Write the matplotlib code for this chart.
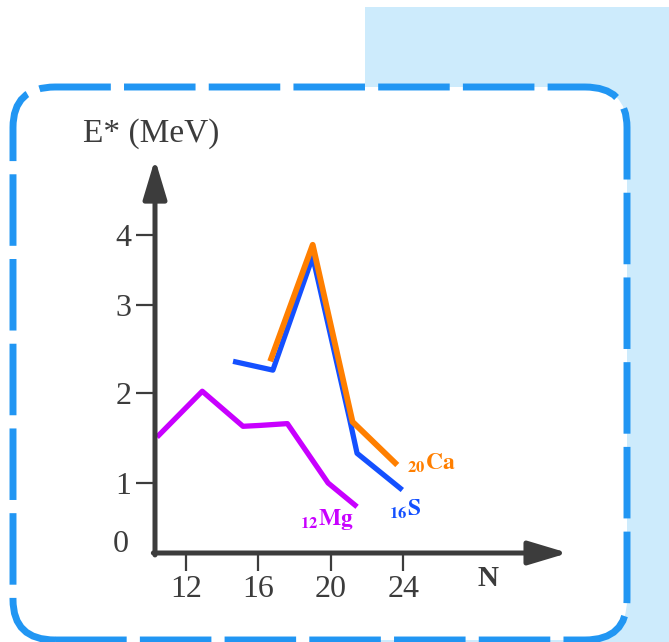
import numpy as np
import matplotlib
matplotlib.use('Agg')
import matplotlib.pyplot as plt
from matplotlib.patches import FancyBboxPatch, Rectangle

plt.rcParams['font.family'] = ['Liberation Serif', 'DejaVu Serif']
plt.rcParams['mathtext.fontset'] = 'stix'

# data (N, E* in MeV)
mg_n = [10.4, 12.9, 15.15, 16.1, 17.6, 19.85, 21.45]
mg_e = [1.51, 2.02, 1.63, 1.64, 1.66, 1.0, 0.66]

s_n = [14.6, 16.8, 19.0, 21.05, 21.45, 23.95]
s_e = [2.36, 2.26, 3.69, 1.70, 1.33, 0.90]

ca_n = [16.65, 19.0, 21.2, 23.67]
ca_e = [2.36, 3.86, 1.68, 1.20]

x_ticks = [12, 16, 20, 24]
y_ticks = [1, 2, 3, 4]

axis_col = '#3c3c3c'
mg_col = '#c800ff'
s_col = '#1450ff'
ca_col = '#ff7f00'

# the E axis in the original is hand drawn, spacing between ticks is uneven
e_knots = np.array([0, 1, 2, 3, 4, 5.03])
e_pos = np.array([0, 70, 160, 248, 318, 390.0])

def fwd(v):
    v = np.asarray(v, dtype=float)
    out = np.interp(v, e_knots, e_pos)
    out = np.where(v > e_knots[-1], e_pos[-1] + (v - e_knots[-1]) * 70, out)
    out = np.where(v < 0, v * 70, out)
    return out

def inv(p):
    p = np.asarray(p, dtype=float)
    out = np.interp(p, e_pos, e_knots)
    out = np.where(p > e_pos[-1], e_knots[-1] + (p - e_pos[-1]) / 70, out)
    out = np.where(p < 0, p / 70, out)
    return out

fig = plt.figure(figsize=(6.69, 6.42), dpi=100)
fig.patch.set_facecolor('white')

# light blue panel behind, and the dashed rounded frame
fig.patches.append(Rectangle((365 / 669, 0), 1 - 365 / 669, (642 - 7) / 642,
                             transform=fig.transFigure, facecolor='#cdebfc',
                             edgecolor='none', zorder=-3))
fig.patches.append(FancyBboxPatch((13 / 669, 2 / 642), (627 - 13) / 669, (640 - 87) / 642,
                                  boxstyle='round,pad=0,rounding_size=0.063',
                                  transform=fig.transFigure, facecolor='white',
                                  edgecolor='#2196f3', linewidth=5,
                                  linestyle=(0, (10.3, 1.9)), zorder=-2))

ax = fig.add_axes([155 / 669, (642 - 553) / 642, (568 - 155) / 669, (553 - 163) / 642])
ax.patch.set_visible(False)
ax.set_yscale('function', functions=(fwd, inv))
ax.set_xlim(10.29, 33.1)
ax.set_ylim(0, 5.03)

ax.plot(mg_n, mg_e, color=mg_col, lw=3.8, solid_joinstyle='round', solid_capstyle='butt')
ax.plot(s_n, s_e, color=s_col, lw=3.8, solid_joinstyle='round', solid_capstyle='butt')
ax.plot(ca_n, ca_e, color=ca_col, lw=4.2, solid_joinstyle='round', solid_capstyle='butt')

for s in ax.spines.values():
    s.set_visible(False)

ax.set_xticks(x_ticks)
ax.set_yticks(y_ticks)
ax.tick_params(axis='x', direction='out', length=13, width=1.6, color=axis_col,
               labelcolor=axis_col, labelsize=23, pad=3)
ax.tick_params(axis='y', direction='out', length=14, width=1.6, color=axis_col,
               labelcolor=axis_col, labelsize=23, pad=3)
ax.yaxis.set_minor_locator(matplotlib.ticker.NullLocator())

# axes with arrow heads
arr = dict(arrowstyle='-|>,head_length=1.2,head_width=0.36', mutation_scale=20,
           lw=3.6, color=axis_col, shrinkA=0, shrinkB=0)
ax.annotate('', xy=(0, 1.01), xytext=(0, -0.005), xycoords='axes fraction', arrowprops=arr)
ax.annotate('', xy=(1, 0), xytext=(-0.004, 0), xycoords='axes fraction', arrowprops=arr)

ax.annotate('0', xy=(0, 0), xycoords='axes fraction', xytext=(-24.5, 6),
            textcoords='offset points', ha='center', va='center',
            fontsize=23, color=axis_col)
ax.annotate('E* (MeV)', xy=(0, 1), xycoords='axes fraction', xytext=(-3, 10),
            textcoords='offset points', ha='center', va='bottom',
            fontsize=24, color=axis_col)
ax.annotate('N', xy=(488 / 669, (642 - 579) / 642), xycoords='figure fraction',
            ha='center', va='center', fontsize=21, fontweight='bold', color=axis_col)

# curve labels
ax.text(23.2, 0.63, r'$_{\mathbf{16}}\mathbf{S}$', color=s_col, fontsize=17,
        ha='left', va='center')
ax.text(24.2, 1.22, r'$_{\mathbf{20}}\mathbf{Ca}$', color=ca_col, fontsize=17,
        ha='left', va='center')
ax.text(18.3, 0.48, r'$_{\mathbf{12}}\mathbf{Mg}$', color=mg_col, fontsize=17,
        ha='left', va='center')

fig.savefig('out.png', dpi=100, facecolor=fig.get_facecolor())
